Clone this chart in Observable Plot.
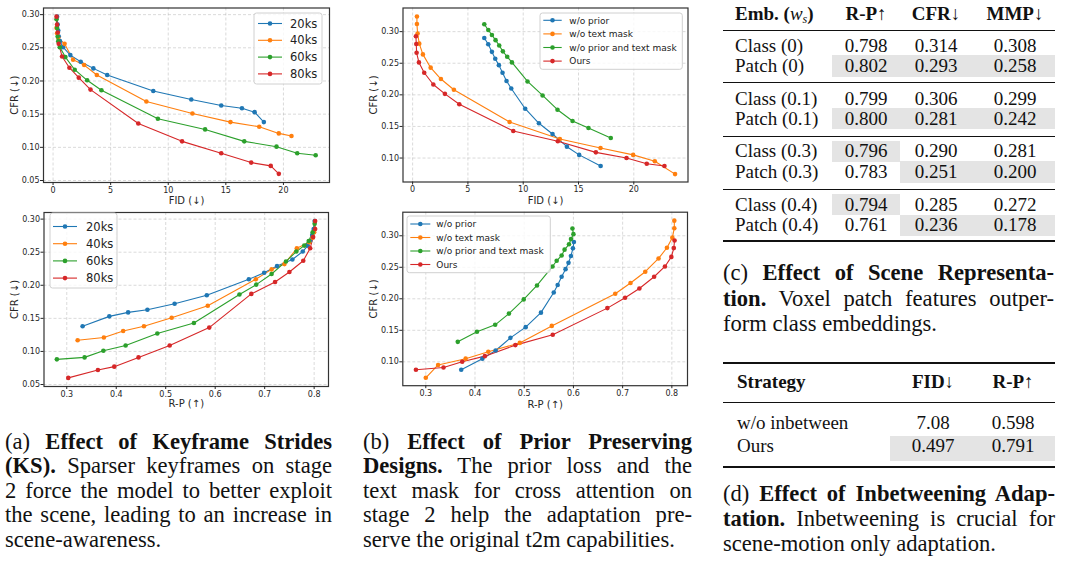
<!DOCTYPE html>
<html><head><meta charset="utf-8">
<script src="https://cdn.jsdelivr.net/npm/d3@7"></script>
<script src="https://cdn.jsdelivr.net/npm/@observablehq/plot@0.6"></script>
<style>
html,body{margin:0;padding:0;background:#fff;}
#root{position:relative;width:1065px;height:561px;overflow:hidden;}
.chart{position:absolute;}
.cap{position:absolute;font-family:"Liberation Serif","Times New Roman",serif;font-size:22.6px;color:#111;}
.cap .ln{white-space:nowrap;text-align:justify;text-align-last:justify;}
.cap .ln.last{text-align-last:left;}
.tb{position:absolute;font-family:"Liberation Serif","Times New Roman",serif;font-size:19px;color:#111;white-space:nowrap;height:22px;line-height:22px;}
.rule{position:absolute;background:#111;}
.shade{position:absolute;background:#e4e4e4;}
</style></head><body><div id="root"></div>
<script>
// ---------- (a) Keyframe strides ----------
const ksNames = ["20ks", "40ks", "60ks", "80ks"];
const ks20CFR = [0.138, 0.153, 0.159, 0.163, 0.172, 0.185, 0.209, 0.219, 0.229, 0.239, 0.251, 0.260, 0.267, 0.276, 0.285, 0.297];
const ks20FID = [18.3, 17.5, 16.4, 14.6, 12.0, 8.7, 4.7, 3.5, 2.4, 1.5, 0.87, 0.6, 0.5, 0.45, 0.4, 0.35];
const ks20RP  = [0.332, 0.386, 0.424, 0.463, 0.518, 0.583, 0.668, 0.699, 0.725, 0.756, 0.777, 0.787, 0.792, 0.796, 0.799, 0.801];
const ks40CFR = [0.117, 0.121, 0.131, 0.138, 0.151, 0.169, 0.209, 0.224, 0.232, 0.256, 0.265, 0.272, 0.280];
const ks40FID = [20.7, 19.6, 17.9, 15.4, 12.1, 8.1, 3.8, 2.7, 1.74, 1.0, 0.45, 0.35, 0.3];
const ks40RP  = [0.322, 0.375, 0.414, 0.456, 0.512, 0.585, 0.682, 0.714, 0.740, 0.765, 0.790, 0.797, 0.800];
const ks60CFR = [0.088, 0.091, 0.101, 0.109, 0.127, 0.143, 0.186, 0.201, 0.217, 0.236, 0.251, 0.260, 0.267, 0.280, 0.293];
const ks60FID = [22.8, 21.2, 19.4, 16.6, 13.2, 9.1, 4.2, 2.96, 1.88, 1.07, 0.58, 0.45, 0.4, 0.35, 0.3];
const ks60RP  = [0.280, 0.336, 0.374, 0.419, 0.483, 0.557, 0.649, 0.683, 0.714, 0.743, 0.764, 0.780, 0.789, 0.797, 0.801];
const ks80CFR = [0.060, 0.072, 0.077, 0.091, 0.109, 0.136, 0.187, 0.205, 0.220, 0.237, 0.256, 0.273, 0.285, 0.297];
const ks80FID = [19.6, 18.9, 17.2, 14.6, 11.2, 7.4, 3.25, 2.23, 1.42, 0.78, 0.49, 0.41, 0.35, 0.3];
const ks80RP  = [0.303, 0.363, 0.396, 0.445, 0.508, 0.588, 0.673, 0.721, 0.750, 0.778, 0.792, 0.798, 0.802, 0.802];

// ---------- (b) Prior preserving designs ----------
const ppNames = ["w/o prior", "w/o text mask", "w/o prior and text mask", "Ours"];
const ppPriorCFR = [0.0875, 0.105, 0.118, 0.138, 0.155, 0.178, 0.210, 0.222, 0.235, 0.247, 0.257, 0.268, 0.280, 0.290];
const ppPriorFID = [17.0, 15.06, 13.95, 12.65, 11.42, 10.18, 8.92, 8.49, 8.13, 7.80, 7.47, 7.17, 6.84, 6.48];
const ppPriorRP  = [0.372, 0.415, 0.442, 0.472, 0.503, 0.534, 0.560, 0.568, 0.576, 0.584, 0.590, 0.595, 0.599, 0.601];
const ppMaskCFR = [0.0746, 0.095, 0.105, 0.116, 0.130, 0.157, 0.208, 0.225, 0.243, 0.264, 0.281, 0.297, 0.312, 0.324];
const ppMaskFID = [23.73, 21.9, 19.94, 16.99, 13.31, 8.77, 3.73, 2.56, 1.63, 0.93, 0.60, 0.45, 0.39, 0.39];
const ppMaskRP  = [0.300, 0.325, 0.381, 0.427, 0.491, 0.556, 0.685, 0.716, 0.746, 0.773, 0.790, 0.801, 0.805, 0.805];
const ppBothCFR = [0.1317, 0.1476, 0.1587, 0.1765, 0.199, 0.2212, 0.2513, 0.2603, 0.2688, 0.278, 0.2865, 0.2947, 0.3026, 0.3116];
const ppBothFID = [17.92, 15.9, 14.46, 13.1, 11.75, 10.39, 8.98, 8.55, 8.16, 7.83, 7.50, 7.17, 6.84, 6.48];
const ppBothRP  = [0.365, 0.404, 0.441, 0.469, 0.499, 0.526, 0.5575, 0.566, 0.576, 0.582, 0.591, 0.595, 0.600, 0.598];
const ppOursCFR = [0.0875, 0.091, 0.100, 0.109, 0.1265, 0.1429, 0.1852, 0.2016, 0.2164, 0.235, 0.2513, 0.2665, 0.2804, 0.2926];
const ppOursFID = [22.77, 21.17, 19.34, 16.57, 13.13, 9.10, 4.22, 2.92, 1.87, 1.05, 0.57, 0.36, 0.33, 0.30];
const ppOursRP  = [0.280, 0.336, 0.374, 0.420, 0.482, 0.558, 0.669, 0.705, 0.734, 0.764, 0.786, 0.799, 0.804, 0.8055];

const tab10 = ["#1f77b4", "#ff7f0e", "#2ca02c", "#d62728"];
const fidTicks = [0, 5, 10, 15, 20];
const rpTicks = [0.3, 0.4, 0.5, 0.6, 0.7, 0.8];
const cfrTicksA = [0.05, 0.10, 0.15, 0.20, 0.25, 0.30];
const cfrTicksB = [0.10, 0.15, 0.20, 0.25, 0.30];

// ---------- (c) Scene representation table ----------
const embHeader = ["R-P↑", "CFR↓", "MMP↓"];
const embRows = ["Class (0)", "Patch (0)", "Class (0.1)", "Patch (0.1)", "Class (0.3)", "Patch (0.3)", "Class (0.4)", "Patch (0.4)"];
const embRP  = [0.798, 0.802, 0.799, 0.800, 0.796, 0.783, 0.794, 0.761];
const embCFR = [0.314, 0.293, 0.306, 0.281, 0.290, 0.251, 0.285, 0.236];
const embMMP = [0.308, 0.258, 0.299, 0.242, 0.281, 0.200, 0.272, 0.178];

// ---------- (d) Inbetweening table ----------
const stratHeader = ["Strategy", "FID↓", "R-P↑"];
const stratRows = ["w/o inbetween", "Ours"];
const stratFID = ["7.08", "0.497"];
const stratRP = ["0.598", "0.791"];

// ---------- captions ----------
const capA = ["(a) <b>Effect of Keyframe Strides</b>", "<b>(KS).</b> Sparser keyframes on stage", "2 force the model to better exploit", "the scene, leading to an increase in", "scene-awareness."];
const capB = ["(b) <b>Effect of Prior Preserving</b>", "<b>Designs.</b> The prior loss and the", "text mask for cross attention on", "stage 2 help the adaptation pre-", "serve the original t2m capabilities."];
const capC = ["(c) <b>Effect of Scene Representa-</b>", "<b>tion.</b> Voxel patch features outper-", "form class embeddings."];
const capD = ["(d) <b>Effect of Inbetweening Adap-</b>", "<b>tation.</b> Inbetweening is crucial for", "scene-motion only adaptation."];

const root = document.getElementById("root");

function seriesData(names, cfrs, xs) {
  return names.flatMap((n, k) => cfrs[k].map((c, i) => ({series: n, cfr: c, x: xs[k][i]})));
}

function chart(data, names, o) {
  const svg = Plot.plot({
    width: o.w, height: o.h,
    marginTop: o.mt, marginBottom: o.mb, marginLeft: o.ml, marginRight: o.mr,
    style: {fontFamily: "DejaVu Sans", fontSize: "8px", color: "#262626", background: "transparent", overflow: "visible"},
    x: {domain: o.xd},
    y: {domain: o.yd},
    color: {domain: names, range: tab10},
    marks: [
      Plot.gridX({ticks: o.xt, stroke: "#b0b0b0", strokeOpacity: 0.6, strokeDasharray: "3,2", strokeWidth: 0.8}),
      Plot.gridY({ticks: o.yt, stroke: "#b0b0b0", strokeOpacity: 0.6, strokeDasharray: "3,2", strokeWidth: 0.8}),
      Plot.line(data, {x: "x", y: "cfr", z: "series", stroke: "series", strokeWidth: 1.1}),
      Plot.dot(data, {x: "x", y: "cfr", fill: "series", r: 2.3}),
      Plot.frame({stroke: "#333", strokeWidth: 1.2}),
      Plot.axisX({ticks: o.xt, tickFormat: o.xf, tickSize: 3, tickPadding: 1.5, label: null}),
      Plot.axisY({ticks: o.yt, tickFormat: d3.format(".2f"), tickSize: 3, tickPadding: 1, label: null}),
      Plot.text([o.xl], {text: d => d, frameAnchor: "bottom", lineAnchor: "middle", textAnchor: "middle", dy: o.xdy, fontSize: 10}),
      Plot.text(["CFR (↓)"], {text: d => d, frameAnchor: "left", lineAnchor: "middle", textAnchor: "middle", dx: -29, rotate: -90, fontSize: 10})
    ]
  });
  const div = document.createElement("div");
  div.className = "chart";
  div.style.left = o.left + "px";
  div.style.top = o.top + "px";
  div.appendChild(svg);
  root.appendChild(div);
}

function legend(names, o) {
  const ns = "http://www.w3.org/2000/svg";
  const svg = document.createElementNS(ns, "svg");
  svg.setAttribute("width", o.w + 2); svg.setAttribute("height", o.h + 2);
  svg.style.position = "absolute"; svg.style.left = (o.left - 1) + "px"; svg.style.top = (o.top - 1) + "px";
  svg.style.overflow = "visible";
  const r = document.createElementNS(ns, "rect");
  r.setAttribute("x", 1); r.setAttribute("y", 1); r.setAttribute("width", o.w); r.setAttribute("height", o.h);
  r.setAttribute("rx", 2.5); r.setAttribute("fill", "rgba(255,255,255,0.8)"); r.setAttribute("stroke", "#d0d0d0"); r.setAttribute("stroke-width", 1);
  svg.appendChild(r);
  names.forEach((n, i) => {
    const y = 1 + o.y0 + i * o.step;
    const l = document.createElementNS(ns, "line");
    l.setAttribute("x1", 1 + o.s0); l.setAttribute("x2", 1 + o.s1); l.setAttribute("y1", y); l.setAttribute("y2", y);
    l.setAttribute("stroke", tab10[i]); l.setAttribute("stroke-width", 1.1);
    svg.appendChild(l);
    const c = document.createElementNS(ns, "circle");
    c.setAttribute("cx", 1 + (o.s0 + o.s1) / 2); c.setAttribute("cy", y); c.setAttribute("r", 2.3); c.setAttribute("fill", tab10[i]);
    svg.appendChild(c);
    const t = document.createElementNS(ns, "text");
    t.setAttribute("x", 1 + o.tx); t.setAttribute("y", y); t.setAttribute("dy", "0.36em");
    t.setAttribute("font-family", "DejaVu Sans"); t.setAttribute("font-size", o.fs); t.setAttribute("fill", "#222");
    t.textContent = n;
    svg.appendChild(t);
  });
  root.appendChild(svg);
}

// (a) top: FID vs CFR
const ksCFR = [ks20CFR, ks40CFR, ks60CFR, ks80CFR];
chart(seriesData(ksNames, ksCFR, [ks20FID, ks40FID, ks60FID, ks80FID]), ksNames,
  {left: 0, top: 0, w: 335, h: 205, mt: 7.5, mb: 23, ml: 43, mr: 6, xd: [-0.83, 24.0], yd: [0.047, 0.310],
   xt: fidTicks, yt: cfrTicksA, xf: d3.format("d"), xl: "FID (↓)", xdy: 18});
// (a) bottom: R-P vs CFR
chart(seriesData(ksNames, ksCFR, [ks20RP, ks40RP, ks60RP, ks80RP]), ksNames,
  {left: 0, top: 205, w: 335, h: 205, mt: 7, mb: 24, ml: 43.5, mr: 7, xd: [0.254, 0.829], yd: [0.047, 0.310],
   xt: rpTicks, yt: cfrTicksA, xf: d3.format(".1f"), xl: "R-P (↑)", xdy: 17});
// (b) top
const ppCFR = [ppPriorCFR, ppMaskCFR, ppBothCFR, ppOursCFR];
chart(seriesData(ppNames, ppCFR, [ppPriorFID, ppMaskFID, ppBothFID, ppOursFID]), ppNames,
  {left: 360, top: 0, w: 335, h: 205, mt: 7.5, mb: 23.5, ml: 42.5, mr: 7.5, xd: [-0.87, 24.9], yd: [0.0621, 0.3374],
   xt: fidTicks, yt: cfrTicksB, xf: d3.format("d"), xl: "FID (↓)", xdy: 18.5});
// (b) bottom
chart(seriesData(ppNames, ppCFR, [ppPriorRP, ppMaskRP, ppBothRP, ppOursRP]), ppNames,
  {left: 360, top: 205, w: 335, h: 205, mt: 6.7, mb: 24.8, ml: 42.3, mr: 8, xd: [0.2533, 0.8318], yd: [0.0621, 0.3374],
   xt: rpTicks, yt: cfrTicksB, xf: d3.format(".1f"), xl: "R-P (↑)", xdy: 19});

legend(ksNames, {left: 254, top: 13, w: 68, h: 71, y0: 10.5, step: 16.8, s0: 4, s1: 28, tx: 36, fs: 11.5});
legend(ksNames, {left: 50, top: 213, w: 67, h: 75, y0: 13.5, step: 17.2, s0: 3, s1: 27, tx: 36, fs: 11.5});
legend(ppNames, {left: 540, top: 12.7, w: 142.3, h: 56.3, y0: 7.3, step: 13.6, s0: 3.3, s1: 21.7, tx: 29.3, fs: 9});
legend(ppNames, {left: 406.7, top: 216, w: 143.3, h: 56.7, y0: 8, step: 13.5, s0: 3.3, s1: 23.3, tx: 29.3, fs: 9});

// ---------- tables ----------
function add(cls, html, left, top, extra) {
  const d = document.createElement("div");
  d.className = cls; d.innerHTML = html;
  d.style.left = left + "px"; d.style.top = top + "px";
  if (extra) Object.assign(d.style, extra);
  root.appendChild(d);
  return d;
}
function rule(y, x0, x1, t) { add("rule", "", x0, y - t / 2, {width: (x1 - x0) + "px", height: t + "px"}); }
function shade(x0, x1, y0, y1) { add("shade", "", x0, y0, {width: (x1 - x0) + "px", height: (y1 - y0) + "px"}); }
function textAt(html, x, yc, anchor) {
  const d = add("tb", html, x, yc - 11);
  if (anchor === "middle") d.style.transform = "translateX(-50%)";
}

// Table (c)
const cColX = [866, 936, 1015];
const cCellX = [[832, 900], [900, 976], [976, 1055]];
const cRowY = [46, 66, 98.7, 118.7, 151.3, 172, 204.7, 225.3];
const embCols = [embRP, embCFR, embMMP];
const higherBetter = [true, false, false];
for (let g = 0; g < 4; g++) {
  for (let c = 0; c < 3; c++) {
    const a = embCols[c][2 * g], b = embCols[c][2 * g + 1];
    const best = higherBetter[c] ? (a >= b ? 0 : 1) : (a <= b ? 0 : 1);
    const yc = cRowY[2 * g + best];
    shade(cCellX[c][0], cCellX[c][1], yc - 10.8, yc + 10.8);
  }
}
textAt('<b>Emb. (</b><i>w</i><sub style="font-size:12px;vertical-align:-3px"><i>s</i></sub><b>)</b>', 735, 14);
embHeader.forEach((h, i) => textAt("<b>" + h + "</b>", cColX[i], 14, "middle"));
rule(30.7, 723, 1055, 1.3);
rule(82.7, 723, 1055, 0.9);
rule(136, 723, 1055, 0.9);
rule(189.3, 723, 1055, 0.9);
rule(241, 723, 1055, 1.5);
embRows.forEach((r, i) => {
  textAt(r, 735, cRowY[i]);
  embCols.forEach((col, c) => textAt(col[i].toFixed(3), cColX[c], cRowY[i], "middle"));
});

// Table (d)
const dColX = [933, 1013];
const dRowY = [423, 446];
shade(890, 1055, 435.5, 460.5);
rule(363, 723, 1055, 1.5);
textAt("<b>" + stratHeader[0] + "</b>", 737, 382);
textAt("<b>" + stratHeader[1] + "</b>", dColX[0], 382, "middle");
textAt("<b>" + stratHeader[2] + "</b>", dColX[1], 382, "middle");
rule(402, 723, 1055, 0.9);
stratRows.forEach((r, i) => {
  textAt(r, 737, dRowY[i]);
  textAt(stratFID[i], dColX[0], dRowY[i], "middle");
  textAt(stratRP[i], dColX[1], dRowY[i], "middle");
});
rule(467, 723, 1055, 1.5);

// ---------- captions ----------
function caption(lines, left, top, width, lh) {
  const d = document.createElement("div");
  d.className = "cap";
  d.style.left = left + "px"; d.style.top = top + "px"; d.style.width = width + "px";
  lines.forEach((l, i) => {
    const ln = document.createElement("div");
    ln.className = "ln" + (i === lines.length - 1 ? " last" : "");
    ln.style.height = lh + "px"; ln.style.lineHeight = lh + "px";
    ln.innerHTML = l;
    d.appendChild(ln);
  });
  root.appendChild(d);
}
caption(capA, 5, 429.75, 327, 24.5);
caption(capB, 363, 429.75, 329, 24.5);
caption(capC, 723, 260.25, 331, 25.5);
caption(capD, 723, 480.5, 332, 25);
</script></body></html>
